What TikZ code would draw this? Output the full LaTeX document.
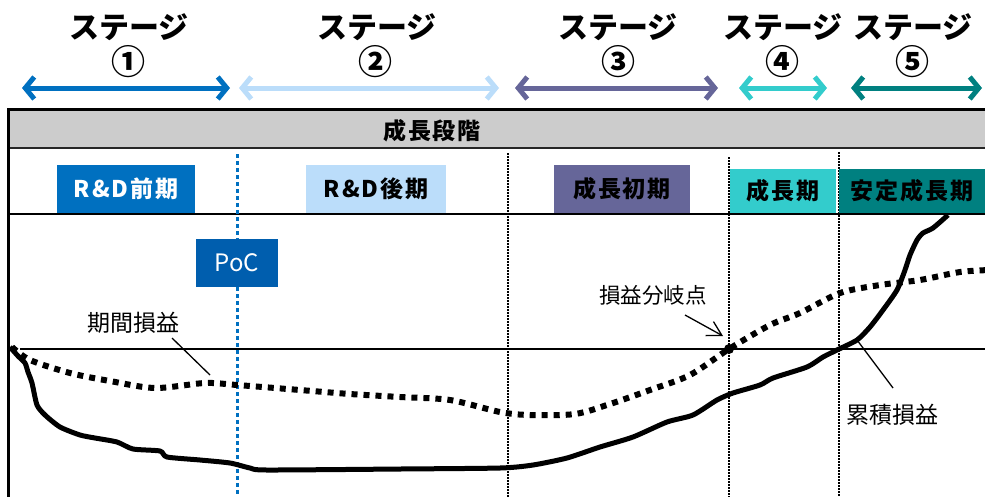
\documentclass[tikz,border=0pt]{standalone}
\usepackage{fontspec}
\setmainfont{Noto Sans CJK JP}
\usetikzlibrary{arrows.meta}
\definecolor{cA}{HTML}{0070C0}
\definecolor{cB}{HTML}{BBDDFA}
\definecolor{cC}{HTML}{666699}
\definecolor{cD}{HTML}{33CCCC}
\definecolor{cE}{HTML}{008080}
\definecolor{cPoC}{HTML}{005EAE}
\definecolor{band}{HTML}{CCCCCC}
\begin{document}
\begin{tikzpicture}[x=1pt,y=-1pt,
  stg/.style={font=\fontsize{30}{30}\selectfont\bfseries, inner sep=0},
  num/.style={font=\fontsize{34}{34}\selectfont\bfseries, inner sep=0},
  span/.style={line width=5pt, line cap=round, line join=round,
    {Straight Barb[length=9pt,width=22pt]}-{Straight Barb[length=9pt,width=22pt]}},
  phase/.style={rectangle, draw=none, inner sep=0, font=\fontsize{23}{23}\selectfont\bfseries\addfontfeature{LetterSpace=8}},
  lbl/.style={inner sep=0, font=\fontsize{23}{23}\selectfont},
  vdot/.style={line width=1.4pt, dash pattern=on 1.5pt off 1.5pt},
  leader/.style={line width=1.3pt}
]
\useasboundingbox (0,0) rectangle (985,496);

% stage headings
\node[stg] (s1) at (129,27) {ステージ};
\node[num] (n1) at (128,62) {①};
\node[stg] (s2) at (377,27) {ステージ};
\node[num] (n2) at (375,62) {②};
\node[stg] (s3) at (618,27) {ステージ};
\node[num] (n3) at (618,62) {③};
\node[stg] (s4) at (783,27) {ステージ};
\node[num] (n4) at (782,62) {④};
\node[stg] (s5) at (913,27) {ステージ};
\node[num] (n5) at (912,62) {⑤};

% stage arrows
\coordinate (a1l) at (22,88); \coordinate (a1r) at (230,88);
\coordinate (a2l) at (239,88); \coordinate (a2r) at (499,88);
\coordinate (a3l) at (515,88); \coordinate (a3r) at (718,88);
\coordinate (a4l) at (739,88); \coordinate (a4r) at (827,88);
\coordinate (a5l) at (851,88); \coordinate (a5r) at (982,88);
\draw[span, cA] (a1l) -- (a1r);
\draw[span, cB] (a2l) -- (a2r);
\draw[span, cC] (a3l) -- (a3r);
\draw[span, cD] (a4l) -- (a4r);
\draw[span, cE] (a5l) -- (a5r);

% gray band
\fill[band] (8,109) rectangle (990,148);
\draw[line width=1.6pt, black!85] (8,148) -- (990,148);
\draw[line width=3pt] (8,109) -- (990,109);
\draw[line width=3pt] (8,108) -- (8,500);
\node[inner sep=0, font=\fontsize{23}{23}\selectfont\bfseries\addfontfeature{LetterSpace=8}] (band) at (432,131) {成長段階};

% horizontal lines
\draw[line width=1.5pt] (8,214) -- (990,214);
\draw[line width=1.3pt] (20,349) -- (990,349);

% vertical dotted lines
\draw[cA, line width=3pt, dash pattern=on 3.5pt off 3.5pt] (237,154) -- (237,500);
\draw[vdot] (508,153) -- (508,500);
\draw[vdot] (729,157) -- (729,500);
\draw[vdot] (839,152) -- (839,500);

% phase boxes
\node[phase, fill=cA, text=white, minimum width=138pt, minimum height=48pt] (rd1) at (126,189) {R\&D前期};
\node[phase, fill=cB, text=black, minimum width=140pt, minimum height=48pt] (rd2) at (376,189) {R\&D後期};
\node[phase, fill=cC, text=black, minimum width=136pt, minimum height=48pt] (g1) at (622,189) {成長初期};
\node[phase, fill=cD, text=black, minimum width=106pt, minimum height=44pt] (g2) at (783,191) {成長期};
\node[phase, fill=cE, text=black, minimum width=146pt, minimum height=44pt] (g3) at (912,191) {安定成長期};
\node[rectangle, inner sep=0, fill=cPoC, text=white, font=\fontsize{24}{24}\selectfont, minimum width=82pt, minimum height=48pt] (poc) at (237,263) {PoC};

% period P/L (dotted square line)
\draw[line width=6pt, dash pattern=on 6pt off 6pt] plot[smooth, tension=0.5] coordinates {
(12,347) (30,360) (70,373) (110,381) (155,388) (205,383) (237,385) (300,390)
(350,394) (400,397) (450,400) (500,412) (530,415) (575,414) (610,404) (650,390)
(690,375) (729,349) (770,325) (800,313) (840,293) (880,285) (920,280) (960,272) (990,270)};

% cumulative P/L
\draw[line width=5pt, line join=round] plot[smooth, tension=0.4] coordinates {
(10,347) (18,356) (25,363) (28,372) (32,383) (37,405) (45,415) (60,427) (80,435)
(95,438) (117,442) (133,449) (160,451) (167,457) (200,460) (230,463) (250,468)
(267,470) (400,469) (500,468) (533,465) (567,458) (600,447) (633,437) (667,422)
(693,415) (717,400) (733,393) (760,385) (773,378) (807,367) (823,357) (837,350)
(857,340) (870,327) (883,310) (897,290) (905,270) (910,255) (917,240) (923,233)
(933,228) (948,215)};

% break-even point
\node[circle, fill=black, inner sep=0, minimum size=10pt] (bep) at (729,349) {};

% labels and leaders
\node[lbl] (kikan) at (133,323) {期間損益};
\coordinate (kA) at (172,338); \coordinate (kB) at (210,375);
\draw[leader] (kA) -- (kB);

\node[lbl, font=\fontsize{21.5}{21.5}\selectfont] (bepl) at (653,295) {損益分岐点};
\coordinate (bA) at (685,315); \coordinate (bB) at (723,336);
\draw[leader, -{Straight Barb[length=14pt,width=16pt]}] (bA) -- (bB);

\node[lbl] (ruiseki) at (892,415) {累積損益};
\coordinate (rA) at (857,340); \coordinate (rB) at (893,388);
\draw[leader] (rA) -- (rB);
\end{tikzpicture}
\end{document}
